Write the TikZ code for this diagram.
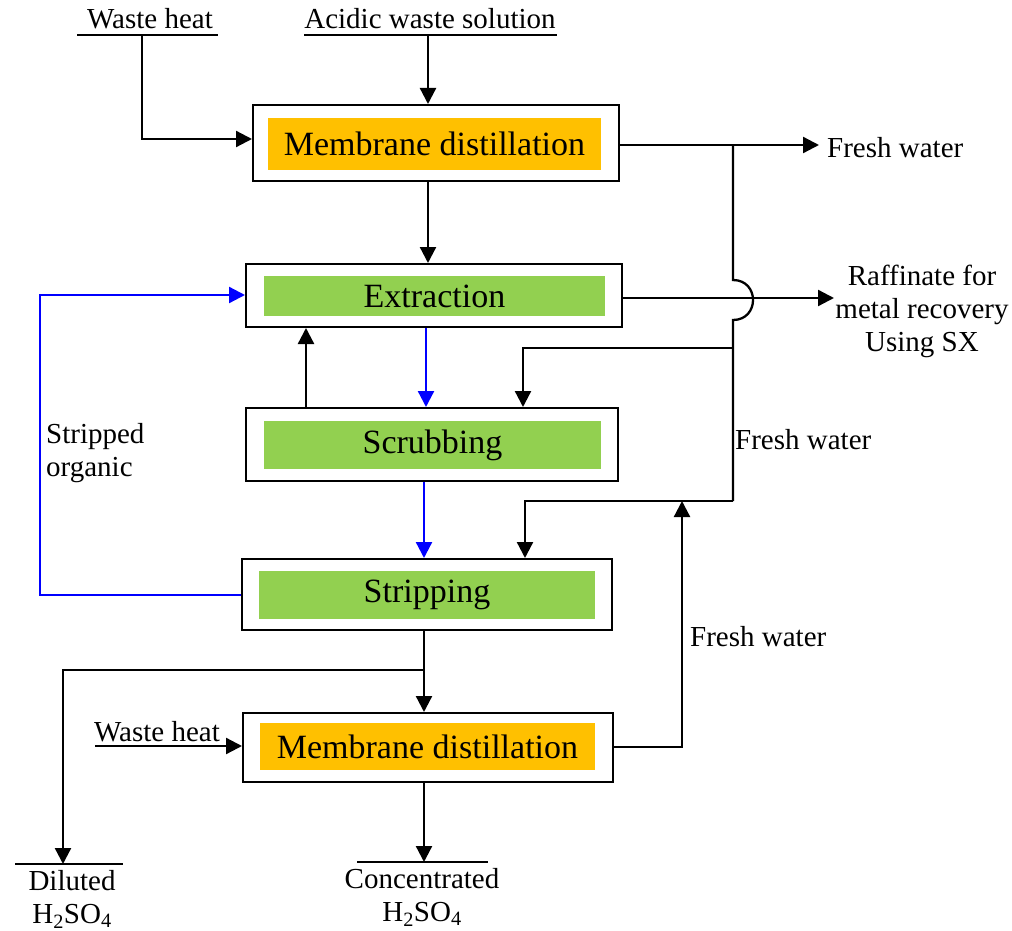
\documentclass[tikz,border=0pt]{standalone}
\usepackage{fontspec}
\setmainfont{Liberation Serif}
\usetikzlibrary{arrows.meta}
\definecolor{mdorange}{HTML}{FFC000}
\definecolor{sxgreen}{HTML}{92D050}
\begin{document}
\begin{tikzpicture}[x=1pt,y=-1pt,
  outerbox/.style={draw=black,line width=2pt,fill=white,inner sep=0pt},
  innerbox/.style={inner sep=0pt,font=\fontsize{34}{40}\selectfont},
  lbl/.style={inner sep=0pt,font=\fontsize{29}{33}\selectfont},
  conn/.style={line width=2.3pt,black},
  arr/.style={conn,-{Triangle[length=16pt,width=16pt]}},
  barr/.style={line width=2.3pt,blue,-{Triangle[length=16pt,width=16pt]}},
  uline/.style={line width=1.8pt,black}]
\useasboundingbox (0,0) rectangle (1012,931);

% boxes
\node[outerbox,minimum width=366pt,minimum height=76pt] (md1) at (436,143) {};
\node[innerbox,fill=mdorange,minimum width=333pt,minimum height=52pt] (md1t) at (434.5,144) {Membrane distillation};
\node[outerbox,minimum width=376pt,minimum height=63pt] (ext) at (434,295.5) {};
\node[innerbox,fill=sxgreen,minimum width=341pt,minimum height=40pt] (extt) at (434.5,296) {Extraction};
\node[outerbox,minimum width=372pt,minimum height=73pt] (scr) at (432,444.5) {};
\node[innerbox,fill=sxgreen,minimum width=337pt,minimum height=48pt] (scrt) at (432.5,445) {Scrubbing};
\node[outerbox,minimum width=370pt,minimum height=71pt] (str) at (427,594.5) {};
\node[innerbox,fill=sxgreen,minimum width=336pt,minimum height=48pt] (strt) at (427,595) {Stripping};
\node[outerbox,minimum width=370pt,minimum height=69pt] (md2) at (428,747.5) {};
\node[innerbox,fill=mdorange,minimum width=335pt,minimum height=47pt] (md2t) at (427.5,746.5) {Membrane distillation};

% labels
\node[lbl] (wh1) at (150,19) {Waste heat};
\node[lbl] (acid) at (430,19) {Acidic waste solution};
\node[lbl,anchor=west] (fw1) at (827,148) {Fresh water};
\node[lbl,align=center] (raff) at (922,311) {Raffinate for\\metal recovery\\Using SX};
\node[lbl,anchor=west] (fw2) at (735,440) {Fresh water};
\node[lbl,anchor=west] (fw3) at (690,637) {Fresh water};
\node[lbl,anchor=west,align=left] (so) at (46,453) {Stripped\\organic};
\node[lbl] (wh2) at (157,732) {Waste heat};
\node[lbl,align=center] (dil) at (72,899) {Diluted\\H\textsubscript{2}SO\textsubscript{4}};
\node[lbl,align=center] (conc) at (422,897) {Concentrated\\H\textsubscript{2}SO\textsubscript{4}};

% coordinates
\coordinate (u1a) at (77,35); \coordinate (u1b) at (218,35);
\coordinate (u2a) at (304,35); \coordinate (u2b) at (557,35);
\coordinate (u3a) at (15,864); \coordinate (u3b) at (123,864);
\coordinate (u4a) at (357,862); \coordinate (u4b) at (488,862);
\coordinate (fwtip) at (819,145);
\coordinate (raftip) at (834,298);
\coordinate (jtop) at (733,145);
\coordinate (jbr) at (733,348);
\coordinate (jbot) at (733,501);

% underlines
\draw[uline] (u1a) -- (u1b);
\draw[uline] (u2a) -- (u2b);
\draw[uline] (u3a) -- (u3b);
\draw[uline] (u4a) -- (u4b);

% top inputs
\draw[arr] (142,35) |- (md1.west |- 0,139);
\draw[arr] (428,35) -- (md1.north -| 428,0);
\draw[arr] (md1.south -| 428,0) -- (ext.north -| 428,0);

% fresh water out of MD1 and recycle
\draw[arr] (md1.east |- 0,145) -- (fwtip);
\draw[conn] (jtop) -- (733,280) .. controls (759.7,280) and (759.7,320) .. (733,320) -- (jbot);
\draw[arr] (ext.east |- 0,298) -- (raftip);
\draw[arr] (jbr) -| (scr.north -| 523,0);
\draw[arr] (jbot) -| (str.north -| 525,0);
\draw[arr] (md2.east |- 0,747) -| (682,501);

% organic flows
\draw[barr] (ext.south -| 426,0) -- (scr.north -| 426,0);
\draw[barr] (scr.south -| 424,0) -- (str.north -| 424,0);
\draw[arr] (scr.north -| 306,0) -- (ext.south -| 306,0);
\draw[barr] (str.west |- 0,595) -| (40,295) -- (ext.west |- 0,295);

% bottom
\draw[arr] (str.south -| 424,0) -- (md2.north -| 424,0);
\draw[arr] (424,670) -| (63,864);
\draw[arr] (95,746) -- (md2.west |- 0,746);
\draw[arr] (md2.south -| 424,0) -- (424,862);
\end{tikzpicture}
\end{document}
